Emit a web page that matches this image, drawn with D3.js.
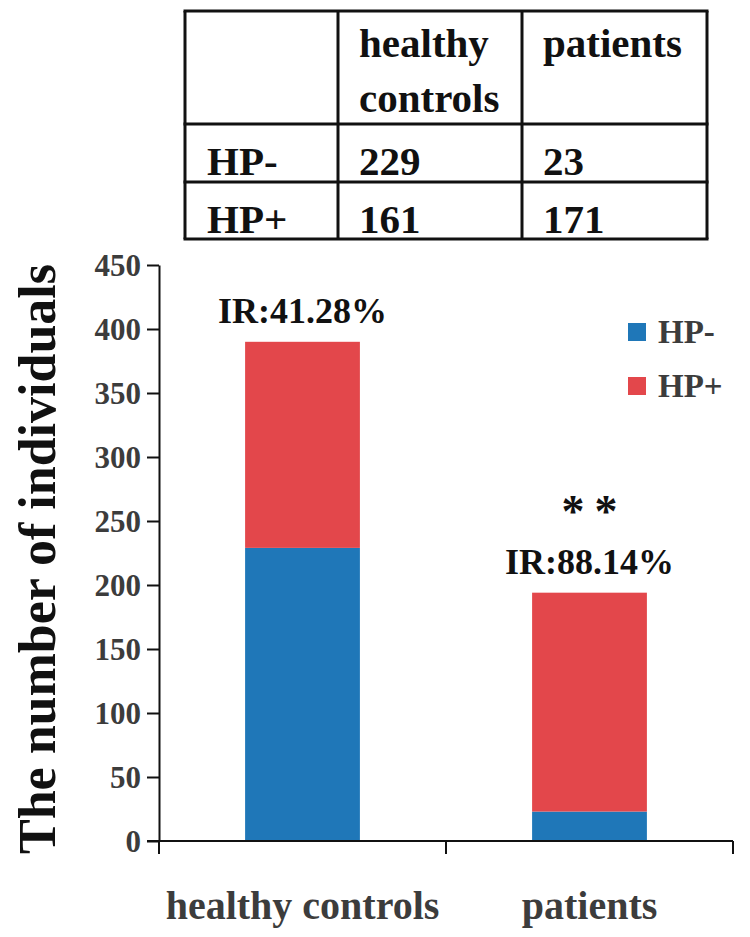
<!DOCTYPE html>
<html>
<head>
<meta charset="utf-8">
<script src="https://cdnjs.cloudflare.com/ajax/libs/d3/7.8.5/d3.min.js"></script>
<style>
  body { margin: 0; background: #fff; }
  svg text { font-family: "Liberation Serif", "Times New Roman", serif !important; font-weight: bold; }
</style>
</head>
<body>
<div id="chart"></div>
<script>
// data
const groups = ["healthy controls", "patients"];
const seriesNames = ["HP-", "HP+"];
const hpNeg = [229, 23];
const hpPos = [161, 171];
const irLabels = ["IR:41.28%", "IR:88.14%"];
const sigLabels = ["", "**"];
const yTicks = [0, 50, 100, 150, 200, 250, 300, 350, 400, 450];
const colors = ["#1f77b8", "#e3474b"];

const width = 750, height = 937;
const margin = { top: 265, right: 17, bottom: 96, left: 159 };
const serif = "'Liberation Serif', 'Times New Roman', serif";

const svg = d3.select("#chart")
    .append("svg")
    .attr("width", width)
    .attr("height", height)
    .attr("font-family", serif);

// table on top
const table = svg.append("g");
const colX = [185, 338, 522, 707];
const rowY = [11, 124, 182, 239];
const cells = [
    [["", ""], ["healthy", "controls"], ["patients"]],
    [[seriesNames[0]], [String(hpNeg[0])], [String(hpNeg[1])]],
    [[seriesNames[1]], [String(hpPos[0])], [String(hpPos[1])]]
];
cells.forEach((row, r) => {
    row.forEach((lines, c) => {
        lines.forEach((t, i) => {
            table.append("text")
                .attr("x", colX[c] + (c === 0 ? 22 : 21))
                .attr("y", rowY[r] + (r === 0 ? 46 + i * 55 : 51))
                .attr("font-size", 41)
                .attr("fill", "#111")
                .text(t);
        });
    });
});
colX.forEach(x => table.append("line")
    .attr("x1", x).attr("x2", x).attr("y1", rowY[0]).attr("y2", rowY[3])
    .attr("stroke", "#111").attr("stroke-width", 3));
rowY.forEach(y => table.append("line")
    .attr("x1", colX[0] - 1.5).attr("x2", colX[3] + 1.5).attr("y1", y).attr("y2", y)
    .attr("stroke", "#111").attr("stroke-width", 3));

// scales
const x = d3.scaleBand()
    .domain(groups)
    .range([margin.left, width - margin.right])
    .padding(0);

const y = d3.scaleLinear()
    .domain([0, 450])
    .range([height - margin.bottom, margin.top]);

const stackData = groups.map((g, i) => ({ group: g, "HP-": hpNeg[i], "HP+": hpPos[i] }));
const stacked = d3.stack().keys(seriesNames)(stackData);

const barW = x.bandwidth() * 0.4;

// bars
svg.append("g")
    .selectAll("g")
    .data(stacked)
    .join("g")
    .attr("fill", (d, i) => colors[i])
    .selectAll("rect")
    .data(d => d)
    .join("rect")
    .attr("x", d => x(d.data.group) + (x.bandwidth() - barW) / 2)
    .attr("y", d => y(d[1]))
    .attr("width", barW)
    .attr("height", d => y(d[0]) - y(d[1]));

// y axis
const yAxis = svg.append("g")
    .attr("transform", `translate(${margin.left},0)`)
    .call(d3.axisLeft(y).tickValues(yTicks).tickSize(12).tickSizeOuter(0).tickPadding(6))
    .attr("font-family", serif);
yAxis.select(".domain").attr("stroke", "#111").attr("stroke-width", 2);
yAxis.selectAll(".tick line").attr("stroke", "#111").attr("stroke-width", 2);
yAxis.selectAll(".tick text")
    .attr("font-family", serif)
    .attr("font-size", 31)
    .attr("fill", "#3c3c3c")
    .attr("dy", "0.35em");

// x axis with ticks at category boundaries
const xAxisG = svg.append("g")
    .attr("transform", `translate(0,${y(0)})`);
xAxisG.append("line")
    .attr("x1", margin.left - 12).attr("x2", width - margin.right)
    .attr("stroke", "#111").attr("stroke-width", 2);
const bounds = [x(groups[0]), x(groups[1]), x(groups[1]) + x.bandwidth()];
xAxisG.selectAll(".btick")
    .data(bounds)
    .join("line")
    .attr("class", "btick")
    .attr("x1", d => d).attr("x2", d => d)
    .attr("y1", 0).attr("y2", 13)
    .attr("stroke", "#111").attr("stroke-width", 2);
xAxisG.selectAll(".xlab")
    .data(groups)
    .join("text")
    .attr("class", "xlab")
    .attr("x", d => x(d) + x.bandwidth() / 2)
    .attr("y", 78)
    .attr("text-anchor", "middle")
    .attr("font-size", 40)
    .attr("fill", "#3c3c3c")
    .text(d => d);

// y title
svg.append("text")
    .attr("transform", `translate(55,${(y(0) + y(450)) / 2 + 6}) rotate(-90)`)
    .attr("text-anchor", "middle")
    .attr("font-size", 52)
    .attr("fill", "#111")
    .text("The number of individuals");

// annotations
groups.forEach((g, i) => {
    const cx = x(g) + x.bandwidth() / 2;
    const top = y(hpNeg[i] + hpPos[i]);
    svg.append("text")
        .attr("x", cx).attr("y", top - 19)
        .attr("text-anchor", "middle")
        .attr("font-size", 36)
        .attr("fill", "#111")
        .text(irLabels[i]);
    if (sigLabels[i]) {
        svg.append("text")
            .attr("x", cx + 5).attr("y", top - 66)
            .attr("text-anchor", "middle")
            .attr("font-size", 46)
            .attr("letter-spacing", 10)
            .attr("fill", "#111")
            .text(sigLabels[i]);
    }
});

// legend
const legend = svg.append("g").attr("transform", "translate(628,323)");
seriesNames.forEach((s, i) => {
    legend.append("rect")
        .attr("x", 0).attr("y", i * 54)
        .attr("width", 18).attr("height", 18)
        .attr("fill", colors[i]);
    legend.append("text")
        .attr("x", 30).attr("y", i * 54 + 20)
        .attr("font-size", 33)
        .attr("fill", "#3c3c3c")
        .text(s);
});
</script>
</body>
</html>
